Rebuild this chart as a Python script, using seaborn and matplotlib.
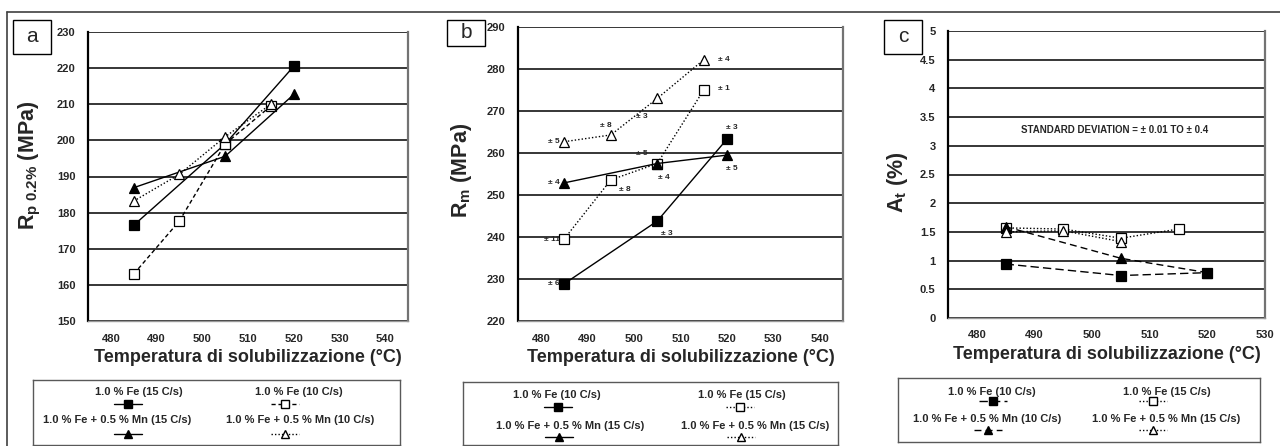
import numpy as np
import pandas as pd
import matplotlib
matplotlib.use("Agg")
import matplotlib.pyplot as plt
from matplotlib.lines import Line2D
from matplotlib.patches import Rectangle
from matplotlib.ticker import MultipleLocator
import seaborn as sns

# ── data ─────────────────────────────────────────────────────────────────────
t3 = [485, 505, 520]
t4 = [485, 495, 505, 515]

# panel a : Rp0.2 (MPa)
a_fe_fill = [176.5, 199.0, 220.5]
a_fe_open = [163.0, 177.7, 199.0, 209.5]
a_mn_fill = [186.9, 195.6, 212.7]
a_mn_open = [183.2, 190.6, 201.0, 210.0]

# panel b : Rm (MPa)
b_fe_fill = [228.9, 243.8, 263.3]
b_fe_open = [239.6, 253.6, 257.5, 275.0]
b_mn_fill = [252.9, 257.5, 259.5]
b_mn_open = [262.7, 264.3, 273.0, 282.2]

# panel c : At (%)
t3c = [485, 495, 505]
c_fe_fill = [0.94, 0.74, 0.79]
c_fe_open = [1.57, 1.55, 1.39, 1.55]
c_mn_fill = [1.59, 1.04, 0.79]
c_mn_open = [1.50, 1.52, 1.33]

# scatter labels in panel b (text, temperature, MPa, alignment)
b_notes = [
    ("± 5", 484.0, 262.7, "right"), ("± 8", 494.0, 266.6, "center"),
    ("± 3", 503.0, 268.8, "right"), ("± 4", 518.0, 282.2, "left"),
    ("± 1", 518.0, 275.3, "left"), ("± 5", 503.0, 259.8, "right"),
    ("± 8", 498.0, 251.2, "center"), ("± 4", 506.5, 254.2, "center"),
    ("± 4", 484.0, 252.9, "right"), ("± 5", 521.0, 256.4, "center"),
    ("± 3", 521.0, 266.0, "center"), ("± 3", 507.0, 240.9, "center"),
    ("± 6", 484.0, 228.9, "right"), ("± 11", 484.0, 239.3, "right"),
]

leg_a = ["1.0 % Fe (15 C/s)", "1.0 % Fe (10 C/s)",
         "1.0 % Fe + 0.5 % Mn (15 C/s)", "1.0 % Fe + 0.5 % Mn (10 C/s)"]
leg_b = ["1.0 % Fe (10 C/s)", "1.0 % Fe (15 C/s)",
         "1.0 % Fe + 0.5 % Mn (15 C/s)", "1.0 % Fe + 0.5 % Mn (15 C/s)"]
leg_c = ["1.0 % Fe (10 C/s)", "1.0 % Fe (15 C/s)",
         "1.0 % Fe + 0.5 % Mn (10 C/s)", "1.0 % Fe + 0.5 % Mn (15 C/s)"]

XLAB = "Temperatura di solubilizzazione (°C)"

sns.set_style("white")
plt.rcParams["font.family"] = ["Liberation Sans", "DejaVu Sans"]
plt.rcParams["mathtext.fontset"] = "custom"
plt.rcParams["mathtext.rm"] = "Liberation Sans"
plt.rcParams["mathtext.bf"] = "Liberation Sans:bold"
plt.rcParams["mathtext.it"] = "Liberation Sans:italic"

W, H = 1280, 446
fig = plt.figure(figsize=(W / 100, H / 100), dpi=100)


def px_axes(x0, y0, x1, y1):
    return fig.add_axes([x0 / W, 1 - y1 / H, (x1 - x0) / W, (y1 - y0) / H])


# style per series: marker, face, linestyle
STY = {
    "fe_fill": dict(marker="s", markerfacecolor="black", linestyle="-"),
    "fe_open": dict(marker="s", markerfacecolor="white", linestyle=(0, (3, 2))),
    "mn_fill": dict(marker="^", markerfacecolor="black", linestyle="-"),
    "mn_open": dict(marker="^", markerfacecolor="white", linestyle=(0, (1, 1.5))),
}


def series(ax, x, y, key, ls=None, lw=1.0):
    kw = dict(STY[key])
    if ls is not None:
        kw["linestyle"] = ls
    sns.lineplot(x=x, y=y, ax=ax, color="black", lw=lw, markersize=6.5,
                 markeredgecolor="black", markeredgewidth=0.9, **kw)


def dress(ax, ylo, yhi, ymaj, xlo, xhi, xticks, ylabel, ylab_x, ylab_y):
    ax.set_xlim(xlo, xhi)
    ax.set_ylim(ylo, yhi)
    ax.set_xticks(xticks)
    ax.xaxis.set_minor_locator(MultipleLocator(5))
    ax.yaxis.set_major_locator(MultipleLocator(ymaj))
    ax.yaxis.set_minor_locator(MultipleLocator(ymaj / 2))
    ax.grid(False)
    for v in np.arange(ylo, yhi + ymaj / 2, ymaj):
        ax.axhline(v, color="0.15", lw=1.3, zorder=0)
    ax.tick_params(axis="both", which="major", labelsize=8, length=4,
                   width=1, color="0.3", direction="inout", pad=7)
    ax.tick_params(axis="both", which="minor", length=2.5, width=1,
                   color="0.4", direction="inout")
    for lab in ax.get_xticklabels() + ax.get_yticklabels():
        lab.set_fontweight("bold")
    ax.spines["top"].set_visible(False)
    ax.spines["left"].set_color("black")
    ax.spines["left"].set_linewidth(1.6)
    ax.spines["right"].set_color("0.45")
    ax.spines["right"].set_linewidth(1.6)
    ax.spines["bottom"].set_color("0.6")
    ax.spines["bottom"].set_linewidth(1.0)
    ax.set_xlabel(XLAB, fontsize=13, fontweight="bold", labelpad=4)
    ax.set_ylabel("")
    fig.text(ylab_x / W, 1 - ylab_y / H, ylabel, rotation=90, fontsize=15.5,
             fontweight="bold", ha="center", va="center")


def legend_box(x0, y0, x1, y1, labels, keys, styles, text_pos, mark_pos):
    lax = px_axes(x0, y0, x1, y1)
    lax.set_xlim(x0, x1)
    lax.set_ylim(y1, y0)
    lax.set_xticks([])
    lax.set_yticks([])
    for s in lax.spines.values():
        s.set_color("0.35")
        s.set_linewidth(1.0)
    for lab, key, ls, (tx, ty), (mx, my) in zip(labels, keys, styles,
                                                   text_pos, mark_pos):
        lax.text(tx, ty, lab, fontsize=8, fontweight="bold",
                 ha="center", va="center")
        kw = dict(STY[key])
        if ls is not None:
            kw["linestyle"] = ls
        lax.plot([mx - 14, mx + 14], [my, my], color="black", lw=1.0,
                 markevery=[], **kw)
        lax.plot([mx], [my], color="black", markersize=5.5,
                 markeredgecolor="black", marker=kw["marker"],
                 markerfacecolor=kw["markerfacecolor"], linestyle="none")


keys = ["fe_fill", "fe_open", "mn_fill", "mn_open"]

# ── panel a ──────────────────────────────────────────────────────────────────
ax_a = px_axes(88, 32, 408, 321)
series(ax_a, t3, a_fe_fill, "fe_fill")
series(ax_a, t4, a_fe_open, "fe_open")
series(ax_a, t3, a_mn_fill, "mn_fill")
series(ax_a, t4, a_mn_open, "mn_open")
dress(ax_a, 150, 230, 10, 475, 545, range(480, 541, 10),
      r"$\mathbf{R_{p\ 0.2\%}}$ (MPa)", 30, 165)
legend_box(33, 380, 400, 445, leg_a, keys,
           [None, (0, (3, 2)), None, (0, (1, 1.5))],
           [(139, 392), (299, 392), (117, 420), (300, 420)],
           [(128, 404), (285, 404), (128, 434), (285, 434)])

# ── panel b ──────────────────────────────────────────────────────────────────
ax_b = px_axes(518, 27, 843, 321)
series(ax_b, t3, b_fe_fill, "fe_fill")
series(ax_b, t4, b_fe_open, "fe_open", ls=(0, (1, 1.5)))
series(ax_b, t3, b_mn_fill, "mn_fill")
series(ax_b, t4, b_mn_open, "mn_open")
for txt, tx, ty, ha in b_notes:
    ax_b.text(tx, ty, txt, fontsize=6, fontweight="bold", ha=ha,
              va="center")
dress(ax_b, 220, 290, 10, 475, 545, range(480, 541, 10),
      r"$\mathbf{R_{m}}$ (MPa)", 461, 170)
legend_box(463, 382, 838, 445, leg_b, keys,
           [None, (0, (1, 1.5)), None, (0, (1, 1.5))],
           [(557, 395), (742, 395), (570, 426), (755, 426)],
           [(558, 407), (740, 407), (559, 437), (741, 437)])

# ── panel c ──────────────────────────────────────────────────────────────────
ax_c = px_axes(948, 31, 1265, 318)
series(ax_c, t3, c_fe_fill, "fe_fill", ls=(0, (6, 3)))
series(ax_c, t4, c_fe_open, "fe_open", ls=(0, (1, 1.5)))
series(ax_c, t3, c_mn_fill, "mn_fill", ls=(0, (5, 3)))
series(ax_c, t3c, c_mn_open, "mn_open")
ax_c.text(0.527, 0.655, "STANDARD DEVIATION = ± 0.01 TO ± 0.4",
          transform=ax_c.transAxes, fontsize=7, fontweight="bold",
          ha="center", va="center")
dress(ax_c, 0, 5, 0.5, 475, 530, range(480, 531, 10),
      r"$\mathbf{A_{t}}$ (%)", 898, 182)
ax_c.set_yticks(np.arange(0, 5.01, 0.5))
ax_c.set_yticklabels(["0", "0.5", "1", "1.5", "2", "2.5", "3", "3.5",
                      "4", "4.5", "5"], fontweight="bold")
legend_box(898, 378, 1260, 442, leg_c, keys,
           [(0, (6, 3)), (0, (1, 1.5)), (0, (5, 3)), (0, (1, 1.5))],
           [(992, 392), (1167, 392), (987, 419), (1166, 419)],
           [(993, 401), (1153, 401), (988, 430), (1153, 430)])

# ── panel tags and outer frame ───────────────────────────────────────────────
for tag, x0, y0, y1 in [("a", 13, 20, 54), ("b", 447, 20, 46),
                        ("c", 884, 20, 54)]:
    fig.add_artist(Rectangle((x0 / W, 1 - y1 / H), 38 / W, (y1 - y0) / H,
                             transform=fig.transFigure, fill=False,
                             edgecolor="black", lw=1.0))
    fig.text((x0 + 19) / W, 1 - (y0 + y1) / 2 / H, tag, fontsize=15,
             ha="center", va="center")

fig.add_artist(Line2D([7 / W, 1.0], [1 - 11.5 / H, 1 - 11.5 / H],
                      transform=fig.transFigure, color="0.25", lw=1.2))
fig.add_artist(Line2D([7 / W, 7 / W], [0, 1 - 11.5 / H],
                      transform=fig.transFigure, color="0.25", lw=1.2))

fig.savefig("out.png", dpi=100)
